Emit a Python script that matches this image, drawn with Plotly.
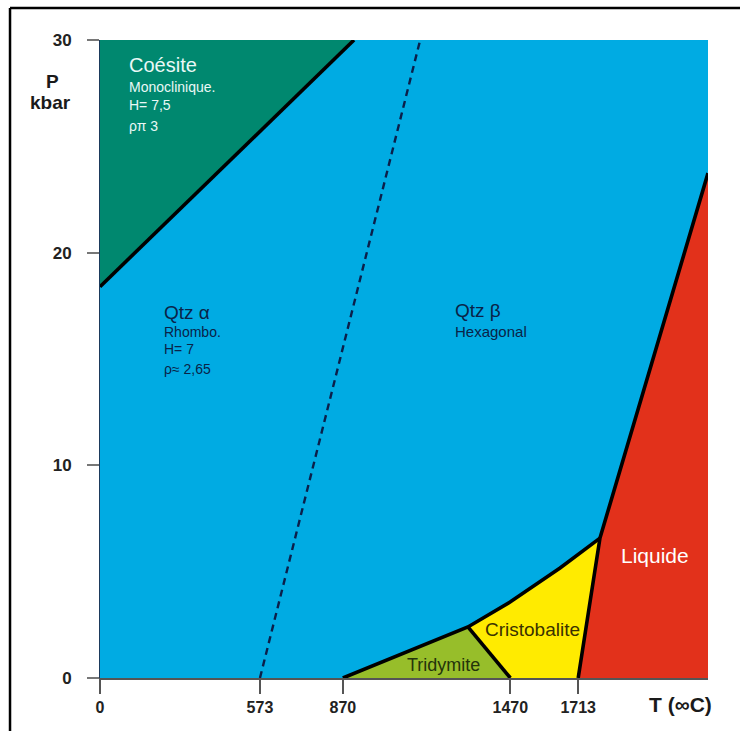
import plotly.graph_objects as go

# --- Phase diagram of SiO2: temperature (°C) vs pressure (kbar) ---
T_TICKS = [0, 573, 870, 1470, 1713]
P_TICKS = [0, 10, 20, 30]
T_MAX = 2178
P_MAX = 30

# Coesite / quartz-alpha boundary
COESITE_T = [0, 910]
COESITE_P = [18.4, 30]

# Alpha / beta quartz transition (dashed)
ALPHA_BETA_T = [573, 1147]
ALPHA_BETA_P = [0, 30]

# Upper limit of tridymite + cristobalite (towards quartz beta)
HT_UPPER_T = [870, 1318, 1469, 1648, 1791]
HT_UPPER_P = [0, 2.4, 3.57, 5.17, 6.58]

# Tridymite / cristobalite boundary
TRID_CRIST_T = [1318, 1470]
TRID_CRIST_P = [2.4, 0]

# Liquidus
LIQUIDUS_T = [1713, 1791, 2178]
LIQUIDUS_P = [0, 6.58, 23.74]

BLUE = "#00ABE3"
TEAL = "#00886F"
GREEN = "#97BE2A"
YELLOW = "#FFEB00"
RED = "#E2311B"

FONT = "Liberation Sans, Arial, sans-serif"

fig = go.Figure()


def region(xs, ys, color):
    fig.add_trace(go.Scatter(x=xs, y=ys, fill="toself", fillcolor=color,
                             mode="lines", line=dict(width=0, color=color),
                             hoverinfo="skip", showlegend=False))


# Coesite: upper-left corner above its boundary
region(COESITE_T + [0], COESITE_P + [P_MAX], TEAL)

# Tridymite: below the upper curve up to the tridymite/cristobalite line
region(HT_UPPER_T[:2] + TRID_CRIST_T[1:] + [HT_UPPER_T[0]],
       HT_UPPER_P[:2] + TRID_CRIST_P[1:] + [HT_UPPER_P[0]], GREEN)

# Cristobalite
region(HT_UPPER_T[1:] + [LIQUIDUS_T[0]] + TRID_CRIST_T[1:] + [HT_UPPER_T[1]],
       HT_UPPER_P[1:] + [LIQUIDUS_P[0]] + TRID_CRIST_P[1:] + [HT_UPPER_P[1]], YELLOW)

# Liquid
region(LIQUIDUS_T + [T_MAX, LIQUIDUS_T[0]],
       LIQUIDUS_P + [0, LIQUIDUS_P[0]], RED)


def boundary(xs, ys, width=3.6, color="#000000", dash="solid"):
    fig.add_trace(go.Scatter(x=xs, y=ys, mode="lines",
                             line=dict(width=width, color=color, dash=dash),
                             hoverinfo="skip", showlegend=False))


boundary(ALPHA_BETA_T, ALPHA_BETA_P, width=2.4, color="#0B1F4A", dash="7px,5px")
boundary(COESITE_T, COESITE_P)
boundary(HT_UPPER_T, HT_UPPER_P)
boundary(TRID_CRIST_T, TRID_CRIST_P)
boundary(LIQUIDUS_T, LIQUIDUS_P)


def label(x, y, text, size, color, anchor="left", bold=False):
    fig.add_annotation(x=x, y=y, xref="x", yref="y", text=text, showarrow=False,
                       xanchor=anchor, yanchor="middle",
                       font=dict(family=FONT, size=size, color=color,
                                 weight="bold" if bold else "normal"))


NAVY = "#0A2348"
WHITE_TXT = "#EAF8F6"

label(97, 28.82, "Coésite", 20, WHITE_TXT)
label(97, 27.79, "Monoclinique.", 14, WHITE_TXT)
label(97, 26.94, "H= 7,5", 14, WHITE_TXT)
label(97, 25.96, "ρπ 3", 14, WHITE_TXT)

label(222, 17.21, "Qtz α", 19, NAVY)
label(222, 16.27, "Rhombo.", 14, NAVY)
label(222, 15.47, "H= 7", 14, NAVY)
label(222, 14.53, "ρ≈ 2,65", 14, NAVY)

label(1265, 17.3, "Qtz β", 19, NAVY)
label(1265, 16.27, "Hexagonal", 15, NAVY)

label(1989, 5.78, "Liquide", 21, "#FFFFFF", anchor="center")
label(1551, 2.26, "Cristobalite", 19, "#3A3200", anchor="center")
label(1229, 0.61, "Tridymite", 18, "#24340A", anchor="center")

# Axis titles
fig.add_annotation(x=-0.078, y=0.935, xref="paper", yref="paper", text="P",
                   showarrow=False, xanchor="center", yanchor="middle",
                   font=dict(family=FONT, size=19, color="#1a1a1a", weight="bold"))
fig.add_annotation(x=-0.082, y=0.902, xref="paper", yref="paper", text="kbar",
                   showarrow=False, xanchor="center", yanchor="middle",
                   font=dict(family=FONT, size=19, color="#1a1a1a", weight="bold"))
fig.add_annotation(x=0.955, y=-0.042, xref="paper", yref="paper", text="T (∞C)",
                   showarrow=False, xanchor="center", yanchor="middle",
                   font=dict(family=FONT, size=21, color="#1a1a1a", weight="bold"))

# Outer frame (left and top edges)
fig.add_shape(type="line", xref="paper", yref="paper", x0=-0.148, x1=-0.148,
              y0=1.05, y1=-0.1, line=dict(color="#000000", width=2.5))
fig.add_shape(type="line", xref="paper", yref="paper", x0=-0.148, x1=1.1,
              y0=1.05, y1=1.05, line=dict(color="#000000", width=2.5))

fig.update_layout(
    width=740, height=731,
    margin=dict(l=100, r=32, t=40, b=53),
    paper_bgcolor="#FFFFFF",
    plot_bgcolor=BLUE,
    showlegend=False,
    xaxis=dict(range=[0, T_MAX], tickvals=T_TICKS, ticktext=[str(t) for t in T_TICKS],
               ticks="outside", ticklen=14, tickwidth=1.5, tickcolor="#555555",
               showline=True, linecolor="#555555", linewidth=1.5,
               showgrid=False, zeroline=False, ticklabelstandoff=0,
               tickfont=dict(family=FONT, size=16, color="#222222", weight="bold")),
    yaxis=dict(range=[0, P_MAX], tickvals=P_TICKS, ticktext=[str(p) for p in P_TICKS],
               ticks="outside", ticklen=12, tickwidth=1.5, tickcolor="#777777",
               showline=True, linecolor="#1B3A5C", linewidth=1,
               showgrid=False, zeroline=False, ticklabelstandoff=12,
               tickfont=dict(family=FONT, size=17, color="#222222", weight="bold")),
)

fig.write_html("out.html")
